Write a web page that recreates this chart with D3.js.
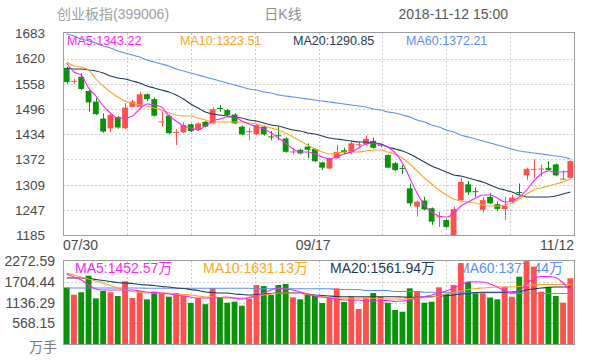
<!DOCTYPE html>
<html><head><meta charset="utf-8">
<script src="https://cdn.jsdelivr.net/npm/d3@7/dist/d3.min.js"></script>
<style>
body{margin:0;background:#fff;}
svg{display:block;font-family:"Liberation Sans","Noto Sans CJK SC",Arial,sans-serif;}
</style>
</head><body>
<svg id="chart" width="590" height="360"></svg>
<script>
// ---------- DATA ----------
const dates = ["07/30","07/31",
 "08/01","08/02","08/03","08/06","08/07","08/08","08/09","08/10","08/13","08/14","08/15","08/16","08/17","08/20","08/21","08/22","08/23","08/24","08/27","08/28","08/29","08/30","08/31",
 "09/03","09/04","09/05","09/06","09/07","09/10","09/11","09/12","09/13","09/14","09/17","09/18","09/19","09/20","09/21","09/25","09/26","09/27","09/28",
 "10/08","10/09","10/10","10/11","10/12","10/15","10/16","10/17","10/18","10/19","10/22","10/23","10/24","10/25","10/26","10/29","10/30","10/31",
 "11/01","11/02","11/05","11/06","11/07","11/08","11/09","11/12"];

const open  = [1597,1563,1575,1540,1514,1472,1448,1476,1448,1501,1501,1532,1520,1463,1479,1437,1438,1458,1444,1464,
               1460,1498,1493,1482,1452,1439,1433,1452,1428,1431,1423,1389,1395,1403,1397,1364,1349,1374,1394,1390,
               1408,1409,1417,1406,1382,1362,1350,1300,1255,1270,1251,1229,1222,1185,1271,1310,1293,1247,1279,1261,
               1249,1267,1291,1332,1347,1347,1350,1359,1322,1326];
const high  = [1600,1570,1584,1543,1523,1485,1483,1479,1510,1518,1538,1534,1524,1490,1482,1446,1463,1460,1463,1466,
               1501,1505,1496,1485,1455,1450,1458,1455,1441,1452,1426,1399,1398,1411,1399,1366,1376,1407,1400,1417,
               1415,1431,1425,1411,1384,1365,1358,1312,1270,1279,1253,1242,1225,1255,1326,1318,1302,1279,1288,1267,
               1279,1284,1312,1351,1372,1358,1367,1361,1345,1369];
const low   = [1558,1557,1542,1489,1480,1437,1439,1447,1446,1499,1499,1515,1477,1452,1433,1407,1436,1439,1441,1450,
               1458,1489,1478,1458,1431,1419,1431,1430,1419,1419,1388,1384,1384,1374,1365,1345,1347,1372,1384,1384,
               1400,1406,1398,1401,1349,1343,1335,1257,1230,1246,1210,1205,1202,1185,1268,1284,1279,1241,1261,1244,
               1222,1263,1284,1321,1325,1329,1344,1330,1321,1324];
const close = [1562,1565,1545,1512,1483,1440,1481,1450,1499,1514,1532,1520,1479,1465,1436,1439,1456,1441,1460,1452,
               1495,1496,1481,1460,1433,1441,1456,1433,1426,1429,1390,1391,1386,1395,1367,1351,1374,1390,1389,1411,
               1409,1422,1400,1407,1351,1345,1348,1263,1267,1248,1218,1231,1205,1249,1316,1290,1291,1271,1263,1249,
               1257,1277,1289,1348,1348,1349,1345,1332,1324,1367];

const ma5  = [1609.0,1586.9,1579.5,1547.4,1527.7,1503.1,1485.8,1473.5,1473.5,1478.4,1495.7,1508.0,1505.5,1500.6,1478.4,1466.1,1453.8,1448.8,1443.9,1453.8,
              1466.1,1471.0,1476.0,1476.0,1466.1,1458.7,1451.3,1446.4,1436.5,1424.2,1411.8,1397.0,1389.6,1389.6,1384.7,1377.3,1372.4,1377.3,1384.7,1389.6,
              1399.5,1409.4,1411.8,1406.9,1402.0,1387.2,1362.5,1325.5,1288.5,1259.0,1241.7,1231.8,1229.4,1236.8,1256.5,1266.4,1276.2,1283.6,1283.6,1276.2,
              1266.4,1268.8,1278.7,1295.9,1318.1,1335.4,1342.8,1340.3,1340.3,1343.22];
const ma10 = [1611.5,1601.7,1599.2,1591.8,1569.6,1552.4,1537.6,1525.2,1515.4,1510.4,1505.5,1503.1,1498.1,1493.2,1485.8,1480.9,1478.4,1478.4,1473.5,1468.5,
              1463.6,1463.6,1463.6,1463.6,1463.6,1461.2,1458.7,1453.8,1448.8,1443.9,1436.5,1426.6,1416.8,1406.9,1397.0,1389.6,1384.7,1387.2,1389.6,1389.6,
              1389.6,1392.1,1394.6,1394.6,1389.6,1384.7,1374.8,1360.0,1342.8,1325.5,1310.7,1295.9,1283.6,1273.8,1268.8,1266.4,1263.9,1259.0,1256.5,1256.5,
              1259.0,1263.9,1273.8,1286.1,1295.9,1300.9,1305.8,1310.7,1315.6,1323.51];
const ma20 = [1596.7,1594.3,1594.3,1591.8,1589.4,1584.4,1577.0,1572.1,1569.6,1564.7,1559.8,1552.4,1547.4,1542.5,1537.6,1530.2,1520.3,1508.0,1498.1,1488.3,
              1483.3,1480.9,1478.4,1476.0,1473.5,1468.5,1466.1,1461.2,1456.2,1453.8,1448.8,1443.9,1441.4,1436.5,1434.0,1429.1,1424.2,1421.7,1419.2,1416.8,
              1414.3,1414.3,1411.8,1409.4,1402.0,1397.0,1392.1,1384.7,1374.8,1365.0,1355.1,1347.7,1340.3,1332.9,1330.4,1325.5,1320.6,1315.6,1308.3,1300.9,
              1295.9,1291.0,1283.6,1278.7,1278.7,1278.7,1278.7,1281.2,1286.1,1290.85];
const ma60 = [1680.5,1675.6,1668.2,1663.3,1658.3,1650.9,1646.0,1638.6,1633.7,1628.7,1623.8,1616.4,1611.5,1606.6,1601.7,1594.3,1589.4,1584.4,1579.5,1574.6,
              1569.6,1564.7,1559.8,1554.8,1549.9,1545.0,1542.5,1537.6,1535.1,1530.2,1527.7,1525.2,1522.8,1520.3,1517.8,1515.4,1512.9,1510.4,1508.0,1505.5,
              1503.1,1500.6,1495.7,1493.2,1488.3,1485.8,1480.9,1476.0,1468.5,1463.6,1456.2,1451.3,1443.9,1439.0,1431.6,1426.6,1421.7,1416.8,1411.8,1406.9,
              1402.0,1397.0,1392.1,1389.6,1387.2,1384.7,1382.2,1379.8,1377.3,1372.21];

// volume, 万手
const volume = [1547,1350,1416,1870,1251,1451,1416,1314,1717,1259,1451,1224,1432,1388,1295,1396,1320,1123,1259,1090,
                1525,1259,1131,1158,1049,1238,1615,1588,1342,1615,1643,1279,1224,1369,1333,1123,1259,1525,1150,1306,
                958,1273,1396,1295,1131,931,884,1525,1451,1131,1158,1552,1374,1615,2215,1706,1388,1388,1273,1224,
                1569,1295,1843,2270,2116,1432,1569,1314,1131,1799];
const volMa5  = [1917,1834,1752,1615,1506,1479,1479,1479,1479,1479,1451,1424,1410,1396,1369,1342,1314,1287,1259,1259,
                 1259,1273,1287,1259,1232,1259,1314,1396,1479,1533,1506,1479,1424,1369,1314,1287,1259,1232,1205,1205,
                 1205,1177,1177,1191,1191,1164,1177,1205,1259,1301,1342,1396,1451,1533,1615,1698,1706,1698,1643,1561,
                 1451,1396,1451,1643,1793,1848,1848,1820,1670,1452.57];
const volMa10 = [1944,1889,1834,1780,1725,1670,1602,1533,1479,1437,1410,1396,1396,1396,1396,1369,1355,1342,1314,1287,
                 1287,1273,1259,1259,1259,1287,1314,1342,1369,1396,1396,1396,1383,1355,1328,1301,1273,1259,1251,1251,
                 1251,1251,1251,1246,1232,1232,1224,1246,1259,1273,1287,1314,1369,1410,1451,1492,1520,1533,1547,1561,
                 1561,1561,1574,1602,1615,1629,1629,1629,1629,1631.13];
const volMa20 = [1807,1807,1807,1793,1766,1739,1711,1684,1670,1656,1629,1615,1602,1574,1561,1533,1520,1492,1465,1424,
                 1410,1396,1396,1369,1355,1342,1355,1369,1383,1396,1396,1396,1396,1369,1342,1328,1314,1301,1295,1295,
                 1295,1295,1295,1295,1295,1295,1287,1279,1279,1287,1295,1314,1328,1342,1369,1383,1410,1416,1416,1416,
                 1416,1424,1437,1479,1506,1533,1547,1561,1561,1561.94];
const volMa60 = [1533,1533,1533,1533,1533,1533,1533,1533,1533,1533,1533,1525,1525,1525,1525,1525,1525,1525,1525,1525,
                 1525,1525,1525,1525,1525,1525,1511,1511,1511,1511,1511,1511,1511,1511,1511,1511,1511,1492,1492,1492,
                 1492,1465,1465,1465,1465,1437,1437,1437,1437,1416,1416,1416,1416,1402,1402,1402,1402,1402,1402,1402,
                 1402,1391,1391,1391,1391,1383,1383,1383,1383,1377.44];

const priceTicks = ["1185","1247","1309","1372","1434","1496","1558","1620","1683"];
const volTicks = ["568.15","1136.29","1704.44","2272.59"];
const dateTicks = ["07/30","09/17","11/12"];
const maNames = ["MA5","MA10","MA20","MA60"];
const maLast = ["1343.22","1323.51","1290.85","1372.21"];
const volMaLast = ["1452.57","1631.13","1561.94","1377.44"];
const titleText = ["创业板指(399006)","日K线","2018-11-12 15:00"];
const volUnit = "万手";

// ---------- STYLE / LAYOUT ----------
const L = 63, R = 574;
const mainTop = 33, mainBot = 235;
const volTop = 261, volBot = 344;
const UP = "#ff5050", DOWN = "#0b920b";
const maColors = ["#ff22ff","#ffa524","#203a5a","#5b8ff0"];
const gridColor = "#cfcfcf";

const svg = d3.select("#chart");

const x = d3.scaleBand().domain(dates).range([L, R]).paddingInner(0.2).paddingOuter(0.1);
const y = d3.scaleLinear().domain([1185, 1683]).range([mainBot, mainTop]);
const yv = d3.scaleLinear().domain([0, 2272.59]).range([volBot, volTop]);
const cx = d => x(d) + x.bandwidth() / 2;

// header
const hdr = svg.append("g").attr("font-size", 14);
hdr.append("text").attr("x", 57).attr("y", 19).attr("fill", "#a0a0a0").text(titleText[0]);
hdr.append("text").attr("x", 283).attr("y", 19).attr("text-anchor", "middle").attr("fill", "#8f8f8f").text(titleText[1]);
hdr.append("text").attr("x", 508).attr("y", 19).attr("text-anchor", "end").attr("fill", "#555").text(titleText[2]);

// grids
const gx = d3.range(1, 8).map(i => L + (R - L) * i / 8);
const grid = svg.append("g").attr("stroke", gridColor).attr("stroke-dasharray", "2,2").attr("stroke-width", 1);
priceTicks.slice(1, -1).forEach(t => {
  grid.append("line").attr("x1", L).attr("x2", R).attr("y1", Math.round(y(+t)) + 0.5).attr("y2", Math.round(y(+t)) + 0.5);
});
gx.forEach(g => {
  grid.append("line").attr("x1", Math.round(g) + 0.5).attr("x2", Math.round(g) + 0.5).attr("y1", mainTop).attr("y2", mainBot);
  grid.append("line").attr("x1", Math.round(g) + 0.5).attr("x2", Math.round(g) + 0.5).attr("y1", volTop).attr("y2", volBot);
});
volTicks.slice(0, -1).forEach(t => {
  grid.append("line").attr("x1", L).attr("x2", R).attr("y1", Math.round(yv(+t)) + 0.5).attr("y2", Math.round(yv(+t)) + 0.5);
});

// y labels
const lab = svg.append("g").attr("fill", "#4a4a4a").attr("text-anchor", "end");
priceTicks.forEach(t => {
  lab.append("text").attr("x", 45).attr("y", y(+t)).attr("dy", "0.36em").attr("font-size", 13.5).text(t);
});
volTicks.forEach(t => {
  lab.append("text").attr("x", 55).attr("y", yv(+t)).attr("dy", "0.36em").attr("font-size", 14).text(t);
});
lab.append("text").attr("x", 57).attr("y", 347).attr("dy", "0.36em").attr("font-size", 14).attr("fill", "#777").text(volUnit);

// date labels
const dl = svg.append("g").attr("font-size", 14).attr("fill", "#4a4a4a");
dl.append("text").attr("x", L).attr("y", 250).text(dateTicks[0]);
dl.append("text").attr("x", cx(dateTicks[1]) - 9).attr("y", 250).attr("text-anchor", "middle").text(dateTicks[1]);
dl.append("text").attr("x", R).attr("y", 250).attr("text-anchor", "end").text(dateTicks[2]);

// legends (drawn beneath the marks)
const mainLegX = [67, 180, 293, 406];
const volLegX = [75, 203, 330, 458];
const lg = svg.append("g");
maNames.forEach((n, k) => {
  lg.append("text").attr("x", mainLegX[k]).attr("y", 45).attr("font-size", 12.5).attr("fill", maColors[k]).text(n + ":" + maLast[k]);
  lg.append("text").attr("x", volLegX[k]).attr("y", 273).attr("font-size", 14).attr("fill", maColors[k]).text(n + ":" + volMaLast[k] + "万");
});

// candles
const idx = d3.range(dates.length);
const cg = svg.append("g");
idx.forEach(i => {
  const up = close[i] >= open[i];
  const col = up ? UP : DOWN;
  const xc = Math.round(cx(dates[i])) + 0.5;
  cg.append("line").attr("x1", xc).attr("x2", xc).attr("y1", y(high[i])).attr("y2", y(low[i])).attr("stroke", col).attr("stroke-width", 1);
  const top = y(Math.max(open[i], close[i])), bot = y(Math.min(open[i], close[i]));
  cg.append("rect").attr("x", x(dates[i])).attr("width", x.bandwidth())
    .attr("y", top).attr("height", Math.max(1, bot - top)).attr("fill", col);
});

// volume bars
const vg = svg.append("g");
idx.forEach(i => {
  const up = close[i] >= open[i];
  vg.append("rect").attr("x", x(dates[i])).attr("width", x.bandwidth())
    .attr("y", yv(volume[i])).attr("height", volBot - yv(volume[i])).attr("fill", up ? UP : DOWN);
});

// MA lines
const lineMain = d3.line().x((d, i) => cx(dates[i])).y(d => y(d)).curve(d3.curveMonotoneX);
const lineVol = d3.line().x((d, i) => cx(dates[i])).y(d => yv(d)).curve(d3.curveMonotoneX);
[ma60, ma20, ma10, ma5].forEach((s, k) => {
  svg.append("path").attr("d", lineMain(s)).attr("fill", "none").attr("stroke", maColors[3 - k]).attr("stroke-width", 1.1);
});
[volMa60, volMa20, volMa10, volMa5].forEach((s, k) => {
  svg.append("path").attr("d", lineVol(s)).attr("fill", "none").attr("stroke", maColors[3 - k]).attr("stroke-width", 1.1);
});

// frames
svg.append("rect").attr("x", L + 0.5).attr("y", mainTop - 0.5).attr("width", R - L).attr("height", mainBot - mainTop + 1)
  .attr("fill", "none").attr("stroke", "#9c9c9c");
svg.append("rect").attr("x", L + 0.5).attr("y", volTop - 0.5).attr("width", R - L).attr("height", volBot - volTop + 1)
  .attr("fill", "none").attr("stroke", "#9c9c9c");
</script>
</body></html>
